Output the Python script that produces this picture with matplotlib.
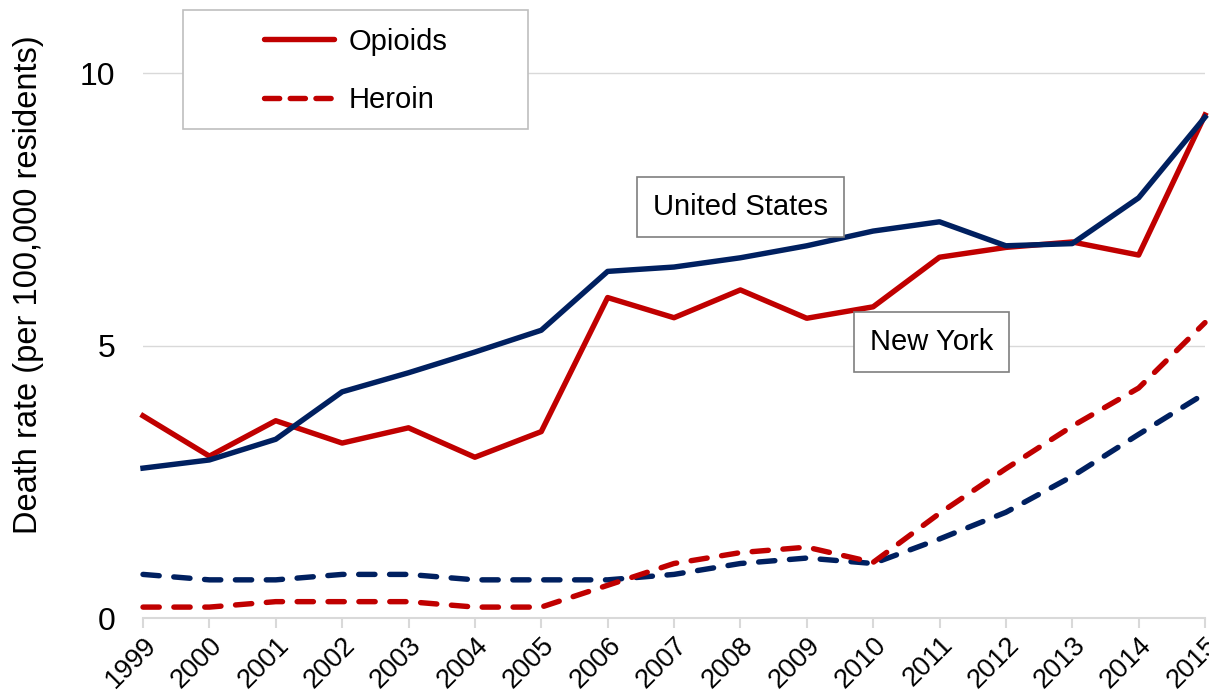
import matplotlib
matplotlib.use("Agg")
import matplotlib.pyplot as plt
from matplotlib.patches import Rectangle
from matplotlib.lines import Line2D

plt.rcParams['font.family'] = ['Liberation Sans', 'DejaVu Sans']

years = list(range(1999, 2016))
us_opioids = [2.75, 2.9, 3.28, 4.15, 4.5, 4.88, 5.28, 6.36, 6.44, 6.61, 6.83, 7.1, 7.27, 6.83, 6.87, 7.71, 9.19]
ny_opioids = [3.71, 2.97, 3.62, 3.21, 3.49, 2.95, 3.42, 5.88, 5.51, 6.02, 5.5, 5.71, 6.62, 6.8, 6.9, 6.66, 9.23]
us_heroin = [0.8, 0.7, 0.7, 0.8, 0.8, 0.7, 0.7, 0.7, 0.8, 1.0, 1.1, 1.0, 1.45, 1.94, 2.6, 3.37, 4.12]
ny_heroin = [0.2, 0.2, 0.3, 0.3, 0.3, 0.2, 0.2, 0.6, 1.0, 1.2, 1.3, 1.02, 1.92, 2.74, 3.52, 4.22, 5.42]
y_ticks = [0, 5, 10]

red = "#C00000"
navy = "#002060"
grid = "#D9D9D9"

fig = plt.figure(figsize=(12.09, 6.93), dpi=100)
ax = fig.add_axes([143/1209, 75/693, 1062/1209, 618/693])

lw = 3.9
dash = (3.0, 2.7)
ax.plot(years, us_heroin, color=navy, lw=lw, dashes=dash, dash_capstyle='round', clip_on=False)
ax.plot(years, ny_heroin, color=red, lw=lw, dashes=dash, dash_capstyle='round', clip_on=False)
ax.plot(years, ny_opioids, color=red, lw=lw, solid_joinstyle='round', clip_on=False)
ax.plot(years, us_opioids, color=navy, lw=lw, solid_joinstyle='round', clip_on=False)

ax.set_xlim(1999, 2015)
ax.set_ylim(0, 11.34)
ax.set_yticks(y_ticks)
ax.set_yticklabels([str(v) for v in y_ticks], fontsize=23)
ax.set_xticks(years)
ax.set_xticklabels([str(y) for y in years], fontsize=19.5, rotation=45, ha='right', rotation_mode='anchor')

for s in ['top', 'right', 'left']:
    ax.spines[s].set_visible(False)
ax.spines['bottom'].set_color(grid)
ax.spines['bottom'].set_linewidth(1.5)
ax.tick_params(axis='y', length=0, pad=20)
ax.tick_params(axis='x', length=7, width=1.5, color=grid, pad=3)
ax.yaxis.grid(True, color=grid, lw=1)
ax.set_axisbelow(True)

ax.set_ylabel("Death rate (per 100,000 residents)", fontsize=23.5)
ax.yaxis.set_label_coords(-0.093, 0.539)

box = dict(boxstyle='square,pad=0.55', fc='white', ec='#7F7F7F', lw=1.2)
ax.text(2008.0, 7.54, "United States", fontsize=21, ha='center', va='center', bbox=box)
ax.text(2010.88, 5.06, "New York", fontsize=21, ha='center', va='center', bbox=box)

# legend frame
fig.add_artist(Rectangle((183/1209, 1 - 129/693), 345/1209, 119/693, transform=fig.transFigure,
                         fc='white', ec='#BFBFBF', lw=1.2))
handles = [Line2D([], [], color=red, lw=lw, solid_capstyle='round'),
           Line2D([], [], color=red, lw=lw, dashes=(2.8, 1.95), dash_capstyle='round')]
fig.legend(handles, ["Opioids", "Heroin"], loc='center left', bbox_to_anchor=(264/1209, 1 - 71/693),
           frameon=False, fontsize=21, handlelength=2.4, handletextpad=0.5, labelspacing=1.06,
           borderpad=0, borderaxespad=0)

fig.savefig("out.png", dpi=100)
